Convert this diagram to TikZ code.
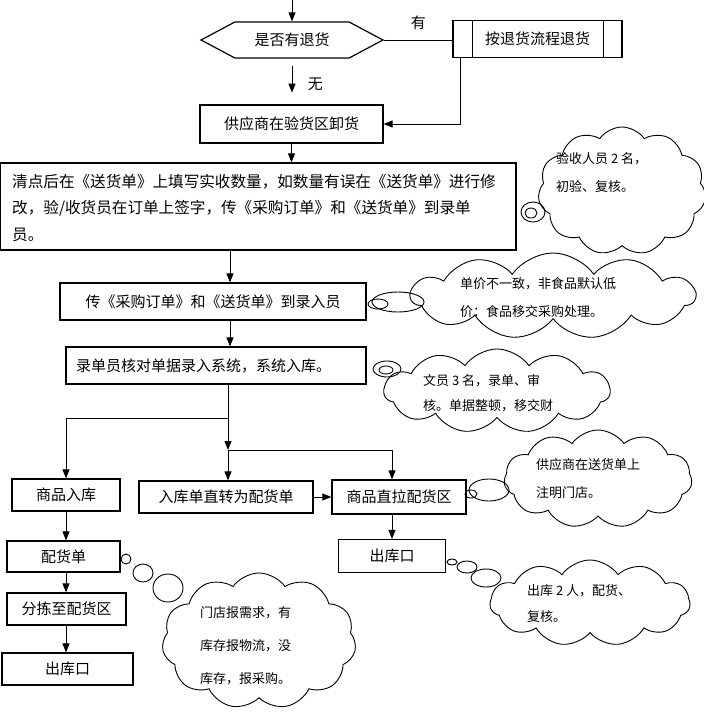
\documentclass[tikz,border=0pt]{standalone}
\usepackage{fontspec}
\setmainfont{Noto Sans CJK SC}
\usetikzlibrary{shapes.symbols,arrows.meta}

\begin{document}
\begin{tikzpicture}[x=1pt,y=-1pt,
    box/.style={draw,line width=1.2pt,inner sep=0pt,font=\fontsize{15}{18}\selectfont},
    arr/.style={-{Triangle[length=9pt,width=7pt]},line width=1pt},
    puff/.style={draw,cloud,cloud puffs=11,cloud puff arc=110,line width=0.9pt,inner sep=0pt},
    note/.style={align=left,inner sep=0pt,font=\fontsize{13}{28}\selectfont},
    bub/.style={line width=0.9pt}]
  \useasboundingbox (0,0) rectangle (704,715);
  % top part
  \coordinate (in) at (292,0);
  \node[box,signal,signal to=west and east,signal pointer angle=56,
        minimum width=182pt,minimum height=36pt] (ret) at (292,40) {是否有退货};
  \node[box,minimum width=169pt,minimum height=37pt] (proc) at (537.5,39) {按退货流程退货};
  \draw[line width=1pt] ([xshift=20pt]proc.north west) -- ([xshift=20pt]proc.south west)
    ([xshift=-19pt]proc.north east) -- ([xshift=-19pt]proc.south east);
  \node[box,minimum width=183pt,minimum height=38pt] (unl) at (291.5,124) {供应商在验货区卸货};
  \draw[arr] (in) -- (ret.north);
  \draw[line width=1pt] (ret.east) -- node[above=6pt,font=\fontsize{15}{18}\selectfont] {有} (ret.east -| proc.west);
  \draw[arr] (ret.south) ++(0,7) coordinate (no) -- ++(0,27)
    node[pos=0.7,right=12pt,font=\fontsize{15}{18}\selectfont] {无};
  \draw[arr] ([xshift=-77pt]proc.south) |- (unl.east);
  % checking
  \node[box,minimum width=516pt,minimum height=87pt] (chk) at (258,206.5) {};
  \node[align=left,inner sep=0pt,font=\fontsize{15.6}{26.5}\selectfont,anchor=north west] (chktxt) at (12,174)
    {清点后在《送货单》上填写实收数量，如数量有误在《送货单》进行修\\
     改，验/收货员在订单上签字，传《采购订单》和《送货单》到录单\\
     员。};
  \draw[arr] (unl.south) -- (chk.north -| unl.south);
  \node[box,minimum width=306pt,minimum height=37pt] (pass) at (213,301.5) {传《采购订单》和《送货单》到录入员};
  \node[box,minimum width=300pt,minimum height=37pt,text width=280pt,align=left] (lu) at (216,365.5) {录单员核对单据录入系统，系统入库。};
  \draw[arr] (230,250) coordinate (c1) -- (c1 |- pass.north);
  \draw[arr] (pass.south -| c1) -- (c1 |- lu.north);
  % split
  \node[box,minimum width=108pt,minimum height=32pt] (rk) at (66,495) {商品入库};
  \node[box,minimum width=174pt,minimum height=32pt] (zz) at (226,497) {入库单直转为配货单};
  \node[box,minimum width=134pt,minimum height=34pt] (zl) at (399,497) {商品直拉配货区};
  \node[box,minimum width=107pt,minimum height=33pt] (ck2) at (392,556) {出库口};
  \coordinate (s1) at (228,418);
  \coordinate (s2) at (228,450);
  \draw[line width=1pt] (lu.south -| s1) -- (s1);
  \draw[arr] (s1) -- (s2);
  \draw[arr] (s1) -| (rk.north);
  \draw[arr] (s2) -- (s2 |- zz.north);
  \draw[arr] (s2) -| ([xshift=-7pt]zl.north);
  \draw[arr] (zz.east) -- (zl.west);
  \draw[arr] ([xshift=-7pt]zl.south) -- ([xshift=0pt]ck2.north);
  % left column
  \node[box,minimum width=113pt,minimum height=31pt] (pd) at (63.5,556.5) {配货单};
  \node[box,minimum width=119pt,minimum height=32pt] (fj) at (66.5,609) {分拣至配货区};
  \node[box,minimum width=131pt,minimum height=32pt] (ck1) at (67.5,669) {出库口};
  \draw[arr] (rk.south) -- (rk.south |- pd.north);
  \draw[arr] (pd.south -| rk.south) -- (rk.south |- fj.north);
  \draw[arr] (fj.south -| rk.south) -- (rk.south |- ck1.north);
  % clouds
  \node[puff,aspect=1.35,minimum width=168pt,minimum height=128pt] (cA) at (622,191) {};
  \node[note,anchor=north west] at (556,152) {验收人员 2 名，\\初验、复核。};
  \draw[bub] (533,212) ellipse [x radius=12pt,y radius=10pt];
  \draw[bub] (531,213) ellipse [x radius=6pt,y radius=5pt];
  \node[puff,aspect=3.4,minimum width=284pt,minimum height=86pt] (cB) at (553,296) {};
  \node[note,anchor=north west] at (460,277) {单价不一致，非食品默认低\\价：食品移交采购处理。};
  \draw[bub] (398,302) ellipse [x radius=26pt,y radius=10pt];
  \draw[bub] (378,304) ellipse [x radius=10pt,y radius=5pt];
  \node[puff,aspect=2.7,minimum width=226pt,minimum height=84pt] (cC) at (497,391) {};
  \node[note,anchor=north west,font=\fontsize{13}{25}\selectfont] at (423,374) {文员 3 名，录单、审\\核。单据整顿，移交财};
  \draw[bub] (387,369) ellipse [x radius=14pt,y radius=8pt];
  \draw[bub] (386,370) ellipse [x radius=7pt,y radius=4pt];
  \node[puff,aspect=2.0,minimum width=188pt,minimum height=98pt] (cD) at (598,479) {};
  \node[note,anchor=north west] at (536,458) {供应商在送货单上\\注明门店。};
  \draw[bub] (489,490) ellipse [x radius=20pt,y radius=11pt];
  \draw[bub] (471,494) ellipse [x radius=6pt,y radius=4pt];
  \node[puff,aspect=2.4,minimum width=200pt,minimum height=86pt] (cE) at (590,603) {};
  \node[note,anchor=north west,font=\fontsize{13}{26}\selectfont] at (527,584) {出库 2 人，配货、\\复核。};
  \draw[bub] (452,562) ellipse [x radius=5pt,y radius=3pt];
  \draw[bub] (467,567) ellipse [x radius=10pt,y radius=6pt];
  \draw[bub] (486,578) ellipse [x radius=15pt,y radius=9pt];
  \node[puff,aspect=1.35,minimum width=194pt,minimum height=136pt] (cF) at (259,641) {};
  \node[note,anchor=north west,font=\fontsize{13}{33}\selectfont] at (200,606) {门店报需求，有\\库存报物流，没\\库存，报采购。};
  \draw[bub] (126,559) ellipse [x radius=5pt,y radius=5pt];
  \draw[bub] (143,573) ellipse [x radius=10pt,y radius=9pt];
  \draw[bub] (168,588) ellipse [x radius=15pt,y radius=14pt];
\end{tikzpicture}
\end{document}
